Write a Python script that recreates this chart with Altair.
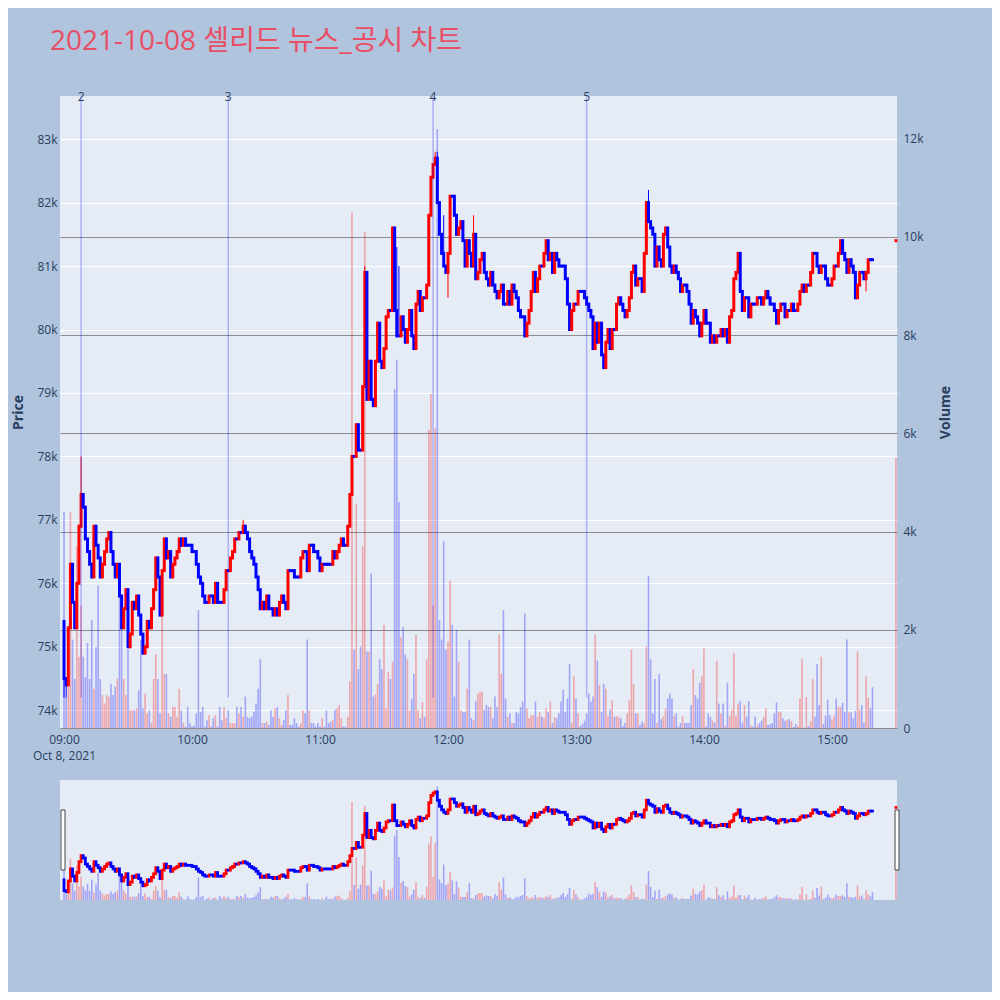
import altair as alt
import pandas as pd

TITLE = "2021-10-08 셀리드 뉴스_공시 차트"

# one-minute closes from 09:00, in units of 100 won
close_h = [
    745, 744, 753, 763, 757, 753, 760, 769, 774, 772,
    767, 765, 763, 761, 769, 766, 764, 761, 763, 765,
    767, 768, 765, 763, 761, 763, 758, 753, 756, 759,
    750, 752, 757, 756, 758, 755, 752, 749, 750, 754,
    753, 756, 759, 764, 761, 755, 762, 767, 764, 765,
    761, 763, 764, 765, 767, 766, 767, 766, 766, 766,
    765, 765, 763, 761, 760, 758, 757, 757, 758, 758,
    757, 760, 757, 757, 757, 759, 762, 762, 764, 765,
    767, 767, 768, 768, 769, 768, 767, 765, 764, 763,
    761, 759, 756, 757, 756, 758, 756, 756, 755, 756,
    755, 757, 758, 757, 756, 762, 762, 762, 761, 761,
    761, 764, 765, 765, 762, 766, 766, 765, 765, 764,
    762, 763, 763, 763, 763, 763, 765, 764, 765, 766,
    767, 766, 766, 769, 774, 780, 780, 785, 781, 781,
    791, 809, 789, 795, 789, 788, 795, 801, 795, 794,
    797, 802, 803, 803, 816, 803, 799, 799, 802, 800,
    798, 800, 803, 799, 797, 804, 806, 803, 805, 805,
    807, 818, 824, 826, 827, 820, 815, 812, 810, 809,
    812, 821, 821, 818, 815, 816, 817, 814, 810, 814,
    812, 810, 815, 808, 809, 811, 812, 809, 808, 807,
    809, 807, 806, 805, 806, 807, 804, 804, 806, 804,
    807, 806, 805, 803, 802, 802, 799, 801, 803, 806,
    809, 806, 808, 810, 810, 812, 814, 811, 812, 809,
    812, 811, 810, 810, 810, 808, 804, 800, 803, 804,
    804, 806, 806, 806, 805, 804, 803, 802, 797, 801,
    798, 801, 796, 794, 798, 800, 797, 800, 800, 804,
    805, 804, 803, 802, 803, 805, 809, 810, 807, 808,
    808, 806, 812, 820, 817, 816, 815, 810, 813, 811,
    810, 815, 816, 813, 810, 809, 810, 809, 808, 806,
    807, 807, 806, 804, 801, 803, 802, 801, 799, 801,
    803, 801, 801, 798, 799, 798, 799, 799, 800, 799,
    800, 798, 802, 803, 808, 809, 812, 806, 803, 805,
    805, 802, 804, 804, 804, 805, 805, 804, 805, 806,
    805, 804, 804, 803, 801, 803, 804, 804, 802, 803,
    803, 804, 803, 803, 804, 806, 807, 806, 807, 807,
    809, 812, 812, 810, 809, 810, 810, 808, 807, 807,
    808, 810, 810, 812, 814, 812, 811, 809, 811, 810,
    809, 805, 807, 809, 809, 808, 809, 811, 811, 811,
]
first_open_h = 754

# one-minute volumes (shares)
volume = [
    4400, 630, 850, 4400, 1800, 1000, 3700, 1450, 2500, 1450,
    1040, 1730, 1000, 2200, 800, 1650, 2900, 1000, 670, 500,
    670, 640, 900, 670, 840, 1000, 3000, 2200, 1000, 670,
    1600, 360, 360, 360, 400, 770, 1800, 400, 700, 300,
    360, 100, 1000, 1500, 1000, 300, 2300, 1100, 1100, 300,
    230, 430, 430, 230, 800, 360, 100, 30, 430, 100,
    30, 50, 300, 2400, 330, 430, 30, 160, 260, 30,
    200, 260, 30, 430, 160, 430, 200, 360, 100, 100,
    100, 430, 300, 430, 230, 640, 230, 200, 230, 330,
    500, 800, 1400, 100, 100, 130, 60, 360, 230, 400,
    430, 200, 60, 160, 360, 670, 60, 60, 200, 100,
    30, 100, 360, 300, 1800, 360, 100, 100, 30, 100,
    30, 200, 30, 360, 100, 130, 170, 370, 400, 470,
    200, 30, 30, 230, 950, 10500, 1600, 4570, 1200, 1660,
    3700, 10100, 1560, 1560, 3150, 640, 680, 900, 1400, 1200,
    2100, 400, 1140, 1000, 1350, 6900, 7500, 4600, 1850, 2050,
    1500, 1400, 360, 600, 1100, 1900, 360, 200, 530, 230,
    1400, 6070, 6800, 2500, 6100, 12200, 2200, 1800, 3800, 1600,
    1760, 3000, 2100, 640, 2000, 1350, 360, 330, 330, 800,
    1800, 200, 160, 540, 700, 740, 740, 370, 470, 430,
    430, 200, 640, 430, 1900, 1100, 2400, 600, 230, 300,
    100, 100, 330, 300, 430, 540, 2330, 400, 200, 260,
    260, 540, 230, 330, 230, 200, 400, 330, 540, 100,
    220, 200, 300, 540, 780, 330, 600, 1300, 100, 1050,
    600, 300, 40, 80, 150, 300, 700, 540, 640, 1900,
    1370, 880, 330, 900, 800, 240, 380, 560, 230, 240,
    230, 200, 40, 100, 300, 560, 1600, 900, 300, 300,
    60, 130, 100, 1660, 3100, 1400, 300, 1000, 100, 1100,
    180, 240, 400, 600, 700, 600, 240, 300, 30, 100,
    240, 100, 100, 100, 470, 1200, 670, 600, 920, 1050,
    1620, 30, 300, 230, 150, 110, 1370, 500, 300, 500,
    50, 920, 250, 370, 1530, 250, 500, 550, 110, 470,
    230, 550, 50, 30, 230, 50, 100, 150, 230, 400,
    60, 80, 100, 300, 520, 330, 330, 200, 150, 170,
    180, 140, 20, 80, 40, 600, 1400, 10, 630, 40,
    140, 1000, 230, 1300, 470, 1450, 80, 250, 580, 260,
    180, 250, 600, 430, 430, 510, 330, 1800, 320, 320,
    200, 350, 1560, 380, 470, 110, 1050, 620, 400, 830,
]

# wick extremes (minute index from 09:00, price in 100 won)
high_wick_min = [8, 84, 141, 156, 157, 174, 175, 176, 178, 192, 274]
high_wick_h = [780, 770, 810, 813, 810, 828, 828, 820, 818, 818, 822]
low_wick_min = [0, 1, 180, 334, 376]
low_wick_h = [742, 742, 805, 801, 806]

# closing auction
auction_time = "2021-10-08T15:30:00"
auction_price_h = 814
auction_volume = 5500

# news / disclosure markers
news_labels = ["2", "3", "4", "5"]
news_times = ["2021-10-08T09:08:00", "2021-10-08T10:17:00",
              "2021-10-08T11:53:00", "2021-10-08T13:05:00"]

# ---------- build table ----------
times = pd.date_range("2021-10-08 09:00", periods=len(close_h), freq="min")
opens_h = [first_open_h] + close_h[:-1]
hw = dict(zip(high_wick_min, high_wick_h))
lw = dict(zip(low_wick_min, low_wick_h))
rows = []
for i, t in enumerate(times):
    o, c = opens_h[i], close_h[i]
    hi = max(o, c, hw.get(i, 0))
    lo = min(o, c, lw.get(i, 10**6))
    rows.append({"t": t.strftime("%Y-%m-%dT%H:%M:%S"), "open": o * 100, "close": c * 100,
                 "high": hi * 100, "low": lo * 100, "vol": volume[i],
                 "dir": "up" if c > o else "down"})
rows.append({"t": auction_time, "open": auction_price_h * 100, "close": auction_price_h * 100,
             "high": auction_price_h * 100, "low": auction_price_h * 100, "vol": auction_volume,
             "dir": "up" if auction_price_h > close_h[-1] else "down"})
df = pd.DataFrame(rows)
day_low = df["low"].min()
news_df = pd.DataFrame({"t": news_times, "label": news_labels, "low": [day_low] * len(news_times)})
one = pd.DataFrame({"title": [TITLE]})

W, H = 837, 632
S_TOP, S_BOT = 684, 804
TXT = "#2a3f5f"
FONT = "Open Sans"
PLOT_BG = "#E5ECF6"

xs = alt.Scale(domain=[alt.DateTime(year=2021, month=10, date=8, hours=8, minutes=58, seconds=7),
                       alt.DateTime(year=2021, month=10, date=8, hours=15, minutes=30, seconds=30)],
               nice=False, padding=0)
xaxis = alt.Axis(values=[alt.DateTime(year=2021, month=10, date=8, hours=h) for h in range(9, 16)],
                 labelExpr="hours(datum.value)==9 ? ['09:00', 'Oct 8, 2021'] : timeFormat(datum.value, '%H:%M')",
                 grid=False, domain=False, ticks=False, labelPadding=6, title=None,
                 labelColor=TXT, labelFontSize=12, labelFont=FONT, labelLineHeight=16,
                 labelOverlap=False, labelFlush=False, labelAlign="center", zindex=1)
X = alt.X("t:T", scale=xs, axis=xaxis)

PDOM = [73720, 83680]
VDOM = [0, 12870]
color = alt.Color("dir:N", scale=alt.Scale(domain=["up", "down"], range=["#ff0000", "#0000ff"]), legend=None)

price_axis = alt.Axis(orient="left", values=list(range(74000, 84000, 1000)),
                      labelExpr="format(datum.value/1000, 'd') + 'k'",
                      grid=True, gridColor="#ffffff", gridWidth=1, domain=False, ticks=False,
                      labelPadding=3, labelColor=TXT, labelFontSize=12, labelFont=FONT,
                      title="Price", titleX=-42, titleY=H / 2, titleAngle=270,
                      titleAlign="center", titleBaseline="middle",
                      titleFontSize=14, titleFontWeight="bold", titleColor=TXT, titleFont=FONT)
vol_axis = alt.Axis(orient="right", values=list(range(0, 14000, 2000)),
                    labelExpr="datum.value == 0 ? '0' : format(datum.value/1000, 'd') + 'k'",
                    grid=True, gridColor="#8c8c8c", gridWidth=1, domain=False, ticks=False,
                    labelPadding=6, labelColor=TXT, labelFontSize=12, labelFont=FONT,
                    title="Volume", titleX=48, titleY=H / 2, titleAngle=270,
                    titleAlign="center", titleBaseline="middle",
                    titleFontSize=14, titleFontWeight="bold", titleColor=TXT, titleFont=FONT)

base = alt.Chart(df)

vol_main = base.mark_bar(size=1.6, opacity=0.3).encode(
    x=X, y=alt.Y("vol:Q", scale=alt.Scale(domain=VDOM, nice=False, zero=True), axis=vol_axis),
    color=color)

wick_main = base.mark_rule(strokeWidth=1).encode(
    x=X, y=alt.Y("low:Q", scale=alt.Scale(domain=PDOM, nice=False, zero=False), axis=None),
    y2="high:Q", color=color)

body_main = base.mark_rule(strokeWidth=3, strokeCap="square").encode(
    x=X, y=alt.Y("open:Q", scale=alt.Scale(domain=PDOM, nice=False, zero=False), axis=price_axis),
    y2="close:Q", color=color)

news_rule = alt.Chart(news_df).mark_rule(color="#0000ff", opacity=0.25, strokeWidth=1.5).encode(
    x=X, y=alt.Y("low:Q", scale=alt.Scale(domain=PDOM, nice=False, zero=False), axis=None),
    y2=alt.value(0))

news_text = alt.Chart(news_df).mark_text(fontSize=12, color=TXT, font=FONT, baseline="middle").encode(
    x=X, y=alt.value(1), text="label:N")

title_text = alt.Chart(one).mark_text(fontSize=28, color="#E94F64", align="left", baseline="alphabetic",
                                      font="Open Sans, Noto Sans CJK KR").encode(
    x=alt.value(-10), y=alt.value(-46), text="title:N")

# range slider
slider_bg = alt.Chart(one).mark_rect(color=PLOT_BG).encode(
    x=alt.value(0), x2=alt.value(W), y=alt.value(S_TOP), y2=alt.value(S_BOT))

vol_slider = base.mark_bar(size=1.6, opacity=0.3).encode(
    x=X, y=alt.Y("vol:Q", scale=alt.Scale(domain=VDOM, nice=False, zero=True, range=[S_BOT, S_TOP]), axis=None),
    color=color)

body_slider = base.mark_rule(strokeWidth=2.8, strokeCap="square").encode(
    x=X, y=alt.Y("open:Q", scale=alt.Scale(domain=PDOM, nice=False, zero=False, range=[S_BOT, S_TOP]), axis=None),
    y2="close:Q", color=color)

handle_l = alt.Chart(one).mark_rect(fill="white", stroke="#444444", strokeWidth=1).encode(
    x=alt.value(1), x2=alt.value(5), y=alt.value(714), y2=alt.value(774))
handle_r = alt.Chart(one).mark_rect(fill="white", stroke="#444444", strokeWidth=1).encode(
    x=alt.value(835), x2=alt.value(839), y=alt.value(714), y2=alt.value(774))

chart = alt.layer(
    vol_main, wick_main, body_main, news_rule, news_text, title_text,
    slider_bg, vol_slider, body_slider, handle_l, handle_r
).resolve_scale(y="independent").properties(
    width=W, height=H,
    autosize=alt.AutoSizeParams(type="none"),
    padding={"left": 52, "top": 88, "right": 95, "bottom": 264},
    background="#B0C4DE",
).configure(font=FONT).configure_view(fill=PLOT_BG, stroke=None, strokeWidth=0)

chart.save("out.html", embed_options={"renderer": "svg", "actions": False})
